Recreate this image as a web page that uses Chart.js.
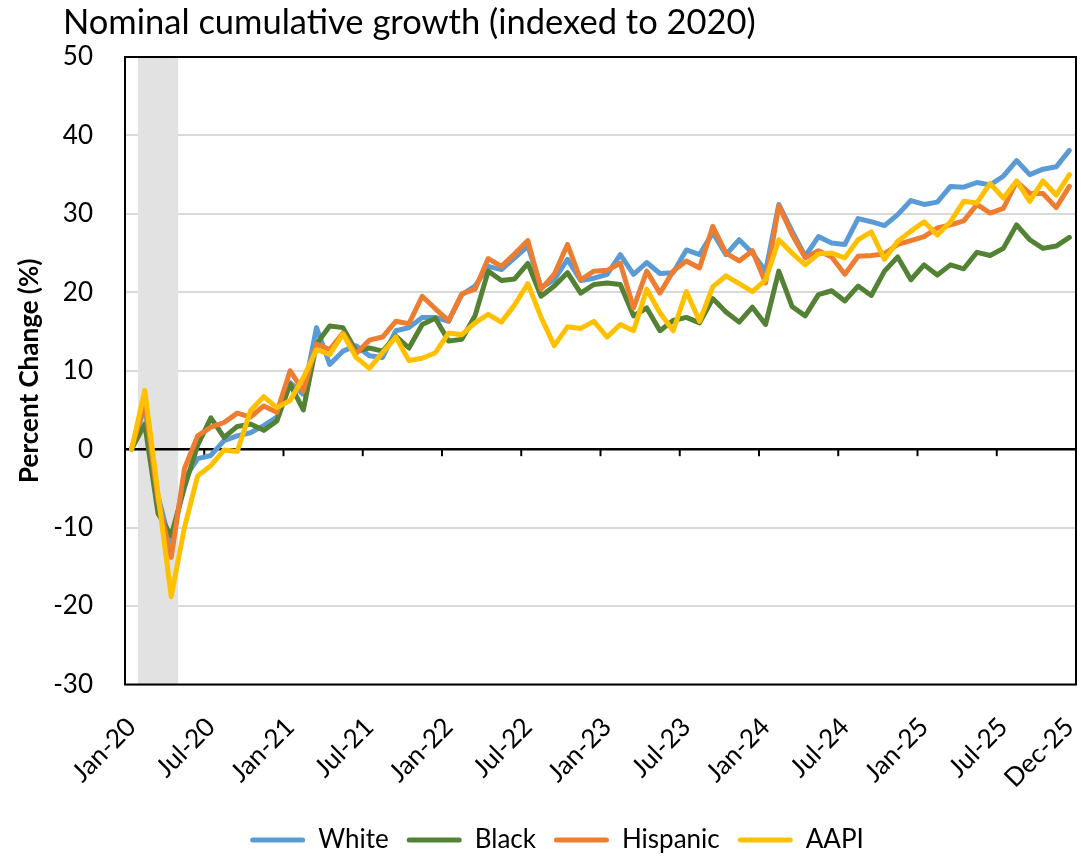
<!DOCTYPE html>
<html>
<head>
<meta charset="utf-8">
<script src="https://cdn.jsdelivr.net/npm/chart.js@4.4.0/dist/chart.umd.min.js"></script>
<style>
  html, body { margin: 0; padding: 0; background: #fff; }
  #wrap { width: 1081px; height: 856px; position: relative; }
</style>
</head>
<body>
<div id="wrap"><canvas id="c"></canvas></div>
<script>
// ---------- data ----------
const chartTitle = 'Nominal cumulative growth (indexed to 2020)';
const yAxisTitle = 'Percent Change (%)';
const monthNames = ['Jan','Feb','Mar','Apr','May','Jun','Jul','Aug','Sep','Oct','Nov','Dec'];
const yearSuffixes = ['20','21','22','23','24','25'];
const categories = yearSuffixes.flatMap(y => monthNames.map(m => m + '-' + y));
const tickLabels = ['Jan-20','Jul-20','Jan-21','Jul-21','Jan-22','Jul-22','Jan-23','Jul-23','Jan-24','Jul-24','Jan-25','Jul-25','Dec-25'];
const recessionMonths = ['Feb-20','Mar-20','Apr-20'];
const yRange = [-30, 50];
const yStep = 10;

const seriesNames = ['White','Black','Hispanic','AAPI'];

const white = [
  0, 5.5, -6, -12.5, -3.8, -1.2, -0.8, 1.1, 1.7, 2.1, 3.0, 4.1,
  8.5, 7.0, 15.5, 10.8, 12.5, 13.2, 11.9, 11.7, 15.1, 15.5, 16.8, 16.8,
  16.3, 19.7, 20.8, 23.3, 22.9, 24.4, 25.9, 20.6, 21.6, 24.2, 21.5, 21.8,
  22.3, 24.8, 22.3, 23.8, 22.4, 22.5, 25.4, 24.8, 27.6, 24.8, 26.7, 25.0,
  22.7, 31.2, 27.8, 24.6, 27.1, 26.3, 26.1, 29.4, 29.0, 28.5, 29.9, 31.7,
  31.2, 31.5, 33.5, 33.4, 34.0, 33.7, 34.8, 36.8, 35.0, 35.7, 36.0, 38.1
];
const black = [
  0, 3.2, -8.2, -11.0, -4.9, 0.5, 4.0, 1.5, 2.9, 3.2, 2.4, 3.6,
  8.3, 5.0, 13.4, 15.7, 15.5, 12.5, 12.9, 12.5, 14.4, 12.9, 15.9, 16.7,
  13.8, 14.0, 17.0, 22.7, 21.5, 21.7, 23.7, 19.5, 20.8, 22.5, 19.9, 21.0,
  21.2, 21.0, 17.0, 18.0, 15.1, 16.4, 16.8, 16.1, 19.2, 17.5, 16.2, 18.1,
  15.9, 22.7, 18.2, 17.0, 19.7, 20.2, 18.9, 20.8, 19.6, 22.7, 24.5, 21.6,
  23.5, 22.2, 23.5, 23.0, 25.1, 24.7, 25.6, 28.6, 26.7, 25.6, 25.9, 27.0
];
const hispanic = [
  0, 6.0, -6.5, -13.8, -2.5, 1.7, 2.8, 3.4, 4.6, 4.1, 5.5, 4.7,
  10.0, 7.4, 13.4, 12.7, 14.8, 12.2, 13.9, 14.3, 16.3, 16.0, 19.5, 17.9,
  16.4, 19.8, 20.4, 24.3, 23.3, 24.9, 26.6, 20.4, 22.3, 26.1, 21.6, 22.7,
  22.8, 23.7, 18.0, 22.7, 19.9, 22.7, 24.0, 23.1, 28.4, 25.0, 24.0, 25.3,
  21.2, 31.0, 27.4, 24.4, 25.3, 24.5, 22.3, 24.6, 24.7, 24.9, 26.1, 26.6,
  27.1, 28.2, 28.6, 29.1, 31.2, 30.1, 30.7, 34.1, 32.6, 32.6, 30.8, 33.5
];
const aapi = [
  0, 7.5, -5.7, -18.8, -10.0, -3.4, -2.1, -0.1, -0.3, 4.9, 6.7, 5.3,
  6.2, 9.1, 12.7, 12.1, 14.7, 11.7, 10.3, 12.3, 14.3, 11.3, 11.6, 12.3,
  14.8, 14.6, 16.1, 17.2, 16.2, 18.4, 21.1, 16.8, 13.2, 15.6, 15.4, 16.3,
  14.3, 15.9, 15.1, 20.4, 17.4, 15.1, 20.1, 16.3, 20.7, 22.1, 21.1, 20.1,
  21.6, 26.7, 25.0, 23.5, 24.9, 25.0, 24.4, 26.7, 27.7, 24.2, 26.5, 27.8,
  29.0, 27.3, 29.0, 31.6, 31.4, 33.9, 32.0, 34.2, 31.6, 34.2, 32.4, 35.0
];

// ---------- styles ----------
const seriesColors = ['#5B9BD5', '#548235', '#ED7D31', '#FFC000'];
const bandColor = '#E2E2E2';
const LEGEND_PAD = 18;
const LEGEND_SHIFT = 19;

const seriesData = [white, black, hispanic, aapi];
const lineDatasets = seriesNames.map((name, i) => ({
  type: 'line',
  label: name,
  data: seriesData[i],
  borderColor: seriesColors[i],
  backgroundColor: seriesColors[i],
  borderWidth: 5,
  pointRadius: 0,
  pointHoverRadius: 0,
  tension: 0,
  fill: false,
  borderJoinStyle: 'round',
  borderCapStyle: 'round',
  order: seriesNames.length - i
}));
const bandDataset = {
  type: 'bar',
  label: 'Recession',
  data: categories.map(c => recessionMonths.includes(c) ? [yRange[0], yRange[1]] : null),
  backgroundColor: bandColor,
  borderWidth: 0,
  categoryPercentage: 1.0,
  barPercentage: 1.0,
  order: 100
};
const BAND_INDEX = 4;

const chartFrame = {
  id: 'chartFrame',
  afterLayout(chart) {
    if (chart.legend) {
      chart.legend.left += LEGEND_SHIFT;
      chart.legend.right += LEGEND_SHIFT;
    }
  },
  afterDatasetDraw(chart, args) {
    if (args.index !== BAND_INDEX) return;
    const { ctx, chartArea: a, scales: { x, y } } = chart;
    const y0 = y.getPixelForValue(0);
    const half = (x.getPixelForValue(1) - x.getPixelForValue(0)) / 2;
    ctx.save();
    ctx.strokeStyle = '#000';
    ctx.lineWidth = 2.5;
    ctx.beginPath();
    ctx.moveTo(a.left, y0);
    ctx.lineTo(a.right, y0);
    ctx.stroke();
    ctx.lineWidth = 2;
    for (let k = 0; k <= categories.length; k += 6) {
      const px = x.getPixelForValue(Math.min(k, categories.length - 1)) + (k < categories.length ? -half : half);
      ctx.beginPath();
      ctx.moveTo(px, y0);
      ctx.lineTo(px, y0 + 7);
      ctx.stroke();
    }
    ctx.restore();
  },
  afterDatasetsDraw(chart) {
    const { ctx, chartArea: a } = chart;
    ctx.save();
    ctx.strokeStyle = '#000';
    ctx.lineWidth = 2;
    ctx.strokeRect(a.left, a.top, a.right - a.left, a.bottom - a.top);
    ctx.restore();
  },
  afterDraw(chart) {
    const ctx = chart.ctx;
    ctx.save();
    ctx.font = '34.5px Lato';
    ctx.fillStyle = '#000';
    ctx.textBaseline = 'alphabetic';
    ctx.textAlign = 'left';
    ctx.fillText(chartTitle, 63, 34);
    ctx.restore();
  }
};

function build() {
  Chart.defaults.font.family = 'Lato';
  Chart.defaults.color = '#000';
  new Chart(document.getElementById('c'), {
    data: {
      labels: categories,
      datasets: [...lineDatasets, bandDataset]
    },
    options: {
      responsive: true,
      maintainAspectRatio: false,
      animation: false,
      layout: { padding: { top: 57, right: 5, bottom: -7, left: 0 } },
      plugins: {
        title: { display: false },
        tooltip: { enabled: false },
        legend: {
          position: 'bottom',
          align: 'center',
          labels: {
            font: { size: 26 },
            boxWidth: 55,
            boxHeight: 5,
            padding: LEGEND_PAD,
            useBorderRadius: true,
            borderRadius: 2.5,
            generateLabels(chart) {
              return chart.data.datasets
                .map((d, i) => ({
                  text: d.label,
                  fillStyle: d.borderColor,
                  strokeStyle: d.borderColor,
                  lineWidth: 0,
                  hidden: false,
                  datasetIndex: i,
                  fontColor: '#000',
                  borderRadius: 2.5
                }))
                .filter(it => it.datasetIndex !== BAND_INDEX);
            }
          }
        }
      },
      scales: {
        x: {
          offset: true,
          grid: { display: false, drawTicks: false },
          border: { display: false },
          ticks: {
            autoSkip: false,
            minRotation: 45,
            maxRotation: 45,
            padding: 27,
            font: { size: 26 },
            color: '#000',
            callback(value, index) {
              const l = categories[index];
              return tickLabels.includes(l) ? l : '';
            }
          },
          afterFit(scale) {
            scale.height = 142.5 - LEGEND_PAD;
            scale.paddingLeft = 0;
            scale.paddingRight = 0;
          }
        },
        y: {
          min: yRange[0],
          max: yRange[1],
          grid: { color: '#D9D9D9', lineWidth: 2, drawTicks: false },
          border: { display: false },
          ticks: { stepSize: yStep, padding: 32, font: { size: 26 }, color: '#000' },
          title: {
            display: true,
            text: yAxisTitle,
            font: { size: 26, weight: 'bold' },
            color: '#000',
            padding: { top: 14, bottom: 0 }
          },
          afterFit(scale) { scale.width = 125; }
        }
      }
    },
    plugins: [chartFrame]
  });
}

if (document.fonts && document.fonts.load) {
  Promise.all([
    document.fonts.load('26px Lato'),
    document.fonts.load('bold 26px Lato')
  ]).then(build, build);
} else {
  build();
}
</script>
</body>
</html>
